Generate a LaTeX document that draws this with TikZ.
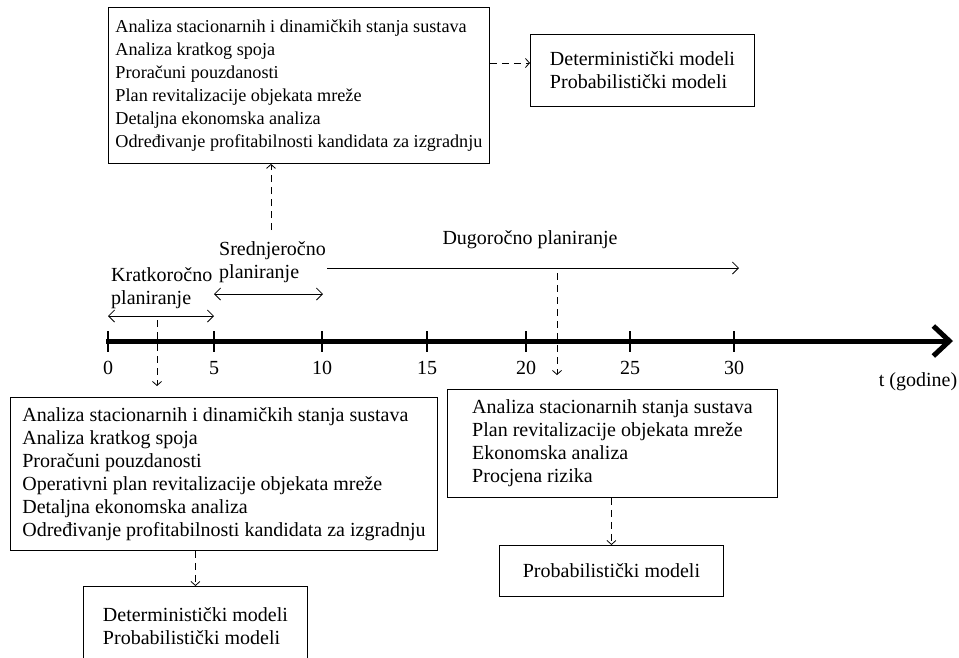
\documentclass[tikz,border=0pt]{standalone}
\usepackage{fontspec}
\setmainfont{Liberation Serif}
\usetikzlibrary{arrows.meta}

\begin{document}
\begin{tikzpicture}[x=1pt,y=-1pt,
		tekst/.style={font=\fontsize{20}{23}\selectfont},
		okvir/.style={draw, line width=0.9pt, tekst, align=left, anchor=north west, inner sep=0pt},
		crtkana/.style={line width=0.8pt, dash pattern=on 7pt off 5pt, -{Straight Barb[length=4pt,width=9pt]}},
		raspon/.style={line width=0.8pt, {Straight Barb[length=6pt,width=12pt]}-{Straight Barb[length=6pt,width=12pt]}}]
		\useasboundingbox (0,0) rectangle (959,657);
		\draw [line width=5pt, -{Straight Barb[length=16pt,width=30pt]}] (106,341) -- (953,341);
		\foreach \x/\t in {108/0, 214/5, 322/10, 427/15, 526/20, 630/25, 734/30} {
			\draw [line width=1.2pt] (\x,331) -- (\x,352);
			\node [tekst] (oznaka\t) at (\x,368) {\t};
		}
		\node [tekst] (vrijeme) at (918,382) {t (godine)};
		\node [tekst, align=left, anchor=west, inner sep=2pt] (kratko) at (109,288) {Kratkoročno\\planiranje};
		\node [tekst, align=left, anchor=west, inner sep=2pt] (srednje) at (217,262) {Srednjeročno\\planiranje};
		\node [tekst] (dugo) at (530,240) {Dugoročno planiranje};
		\coordinate (k0) at (108,316);
		\coordinate (k5) at (214,316);
		\coordinate (s5) at (214,294);
		\coordinate (s10) at (323,294);
		\coordinate (d10) at (327,268);
		\coordinate (d30) at (739,268);
		\draw [raspon] (k0) -- (k5);
		\draw [raspon] (s5) -- (s10);
		\draw [line width=0.8pt, -{Straight Barb[length=6pt,width=12pt]}] (d10) -- (d30);
		\node [okvir, font=\fontsize{18.2}{23}\selectfont, minimum width=381pt, minimum height=156pt] (gornji) at (108,7) {Analiza stacionarnih i dinamičkih stanja sustava\\Analiza kratkog spoja\\Proračuni pouzdanosti\\Plan revitalizacije objekata mreže\\Detaljna ekonomska analiza\\Određivanje profitabilnosti kandidata za izgradnju};
		\node [okvir, minimum width=224pt, minimum height=72pt] (gmodeli) at (530,34) {Deterministički modeli\\Probabilistički modeli};
		\node [okvir, minimum width=427pt, minimum height=153pt] (kratki) at (10,397) {Analiza stacionarnih i dinamičkih stanja sustava\\Analiza kratkog spoja\\Proračuni pouzdanosti\\Operativni plan revitalizacije objekata mreže\\Detaljna ekonomska analiza\\Određivanje profitabilnosti kandidata za izgradnju};
		\node [okvir, minimum width=224pt, minimum height=80pt] (kmodeli) at (83,586) {Deterministički modeli\\Probabilistički modeli};
		\node [okvir, minimum width=330pt, minimum height=108pt] (dugi) at (447,389) {Analiza stacionarnih stanja sustava\\Plan revitalizacije objekata mreže\\Ekonomska analiza\\Procjena rizika};
		\node [okvir, align=center, minimum width=224pt, minimum height=51pt] (dmodeli) at (499,545) {Probabilistički modeli};
		\coordinate (g1) at (271,230);
		\coordinate (k1) at (157,320);
		\coordinate (k2) at (157,386);
		\coordinate (d1) at (557,273);
		\coordinate (d2) at (557,375);
		\draw [crtkana] (g1) -- (g1 |- gornji.south);
		\draw [crtkana] (gornji.east |- 0,63) -- (gmodeli.west |- 0,63);
		\draw [crtkana] (k1) -- (k2);
		\draw [crtkana] (d1) -- (d2);
		\draw [crtkana] (kratki.south -| kmodeli.north) -- (kmodeli.north);
		\draw [crtkana] (dugi.south -| dmodeli.north) -- (dmodeli.north);
	\end{tikzpicture}
\end{document}
